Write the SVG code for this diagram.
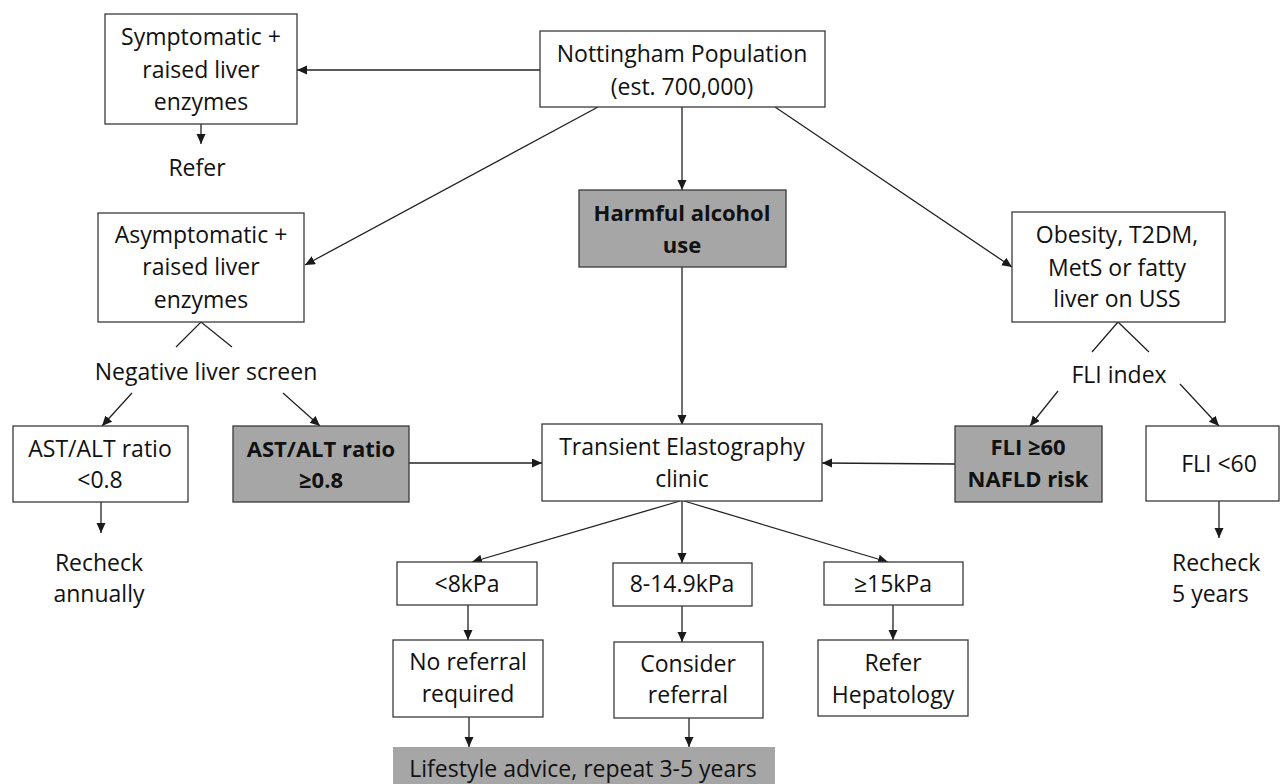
<svg xmlns="http://www.w3.org/2000/svg" width="1280" height="784" viewBox="0 0 1280 784">
<defs>
<marker id="ah" markerUnits="userSpaceOnUse" markerWidth="10" markerHeight="10" refX="10" refY="4.5" orient="auto">
<path d="M0,0 L10,4.5 L0,9 z" fill="#1a1a1a"/>
</marker>
<style>
.box{fill:#ffffff;stroke:#3a3a3a;stroke-width:1.3}
.gbox{fill:#a6a6a6;stroke:#3a3a3a;stroke-width:1.3}
.t{font-family:"Open Sans","Liberation Sans",sans-serif;font-size:23px;fill:#111;text-anchor:middle}
.b{font-weight:bold;font-size:22px}
.l{text-anchor:start}
.c line,.c polyline{stroke:#222;stroke-width:1.3;fill:none}
.c .a{marker-end:url(#ah)}
</style>
</defs>
<rect width="1280" height="784" fill="#ffffff"/>

<g class="c" id="connectors">
<line class="a" x1="540" y1="70" x2="297" y2="70"/>
<line class="a" x1="201" y1="124" x2="201" y2="144"/>
<line class="a" x1="682" y1="107" x2="682" y2="190"/>
<line class="a" x1="598" y1="107" x2="305" y2="265"/>
<line class="a" x1="775" y1="107" x2="1012" y2="267"/>
<line class="a" x1="682" y1="267" x2="682" y2="425"/>
<polyline points="176,347 201,322 232,347"/>
<polyline points="1092,352 1118,322 1149,352"/>
<line class="a" x1="132" y1="393" x2="102" y2="426"/>
<line class="a" x1="283" y1="393" x2="320" y2="426"/>
<line class="a" x1="1058" y1="391" x2="1030" y2="426"/>
<line class="a" x1="1180" y1="384" x2="1219" y2="426"/>
<line class="a" x1="101" y1="502" x2="101" y2="533"/>
<line class="a" x1="1219" y1="501" x2="1219" y2="538"/>
<line class="a" x1="409" y1="463" x2="542" y2="463"/>
<line class="a" x1="955" y1="464" x2="822" y2="463"/>
<line class="a" x1="680" y1="501" x2="472" y2="562"/>
<line class="a" x1="682" y1="501" x2="682" y2="563"/>
<line class="a" x1="684" y1="501" x2="888" y2="562"/>
<line class="a" x1="468" y1="605" x2="468" y2="640"/>
<line class="a" x1="682" y1="606" x2="682" y2="642"/>
<line class="a" x1="893" y1="605" x2="893" y2="640"/>
<line class="a" x1="469" y1="717" x2="469" y2="747"/>
<line class="a" x1="689" y1="718" x2="689" y2="747"/>
</g>

<g id="symptomatic">
<rect class="box" x="105" y="14" width="192" height="110"/>
<text class="t" x="201" y="45">Symptomatic +</text>
<text class="t" x="201" y="78">raised liver</text>
<text class="t" x="201" y="110">enzymes</text>
</g>
<g id="refer-top"><text class="t" x="197" y="176">Refer</text></g>

<g id="nottingham">
<rect class="box" x="540" y="31" width="285" height="76"/>
<text class="t" x="682" y="62">Nottingham Population</text>
<text class="t" x="682" y="95">(est. 700,000)</text>
</g>

<g id="harmful">
<rect class="gbox" x="579" y="190" width="207" height="77"/>
<text class="t b" x="682" y="221">Harmful alcohol</text>
<text class="t b" x="682" y="253">use</text>
</g>

<g id="asymptomatic">
<rect class="box" x="98" y="213" width="206" height="109"/>
<text class="t" x="201" y="243">Asymptomatic +</text>
<text class="t" x="201" y="275">raised liver</text>
<text class="t" x="201" y="308">enzymes</text>
</g>
<g id="negative"><text class="t" x="206" y="380">Negative liver screen</text></g>

<g id="obesity">
<rect class="box" x="1012" y="212" width="213" height="110"/>
<text class="t" x="1117" y="243">Obesity, T2DM,</text>
<text class="t" x="1117" y="276">MetS or fatty</text>
<text class="t" x="1117" y="307">liver on USS</text>
</g>
<g id="fli-index"><text class="t" x="1119" y="383">FLI index</text></g>

<g id="ast-low">
<rect class="box" x="13" y="426" width="175" height="76"/>
<text class="t" x="100" y="457">AST/ALT ratio</text>
<text class="t" x="100" y="488">&lt;0.8</text>
</g>
<g id="recheck-annual">
<text class="t" x="99" y="571">Recheck</text>
<text class="t" x="99" y="602">annually</text>
</g>

<g id="ast-high">
<rect class="gbox" x="233" y="426" width="176" height="76"/>
<text class="t b" x="321" y="457">AST/ALT ratio</text>
<text class="t b" x="321" y="488">≥0.8</text>
</g>

<g id="transient">
<rect class="box" x="542" y="424" width="280" height="77"/>
<text class="t" x="682" y="455">Transient Elastography</text>
<text class="t" x="682" y="487">clinic</text>
</g>

<g id="fli-high">
<rect class="gbox" x="955" y="426" width="147" height="76"/>
<text class="t b" x="1028" y="455">FLI ≥60</text>
<text class="t b" x="1028" y="487">NAFLD risk</text>
</g>

<g id="fli-low">
<rect class="box" x="1146" y="426" width="133" height="75"/>
<text class="t" x="1219" y="472">FLI &lt;60</text>
</g>
<g id="recheck-5">
<text class="t l" x="1172" y="571">Recheck</text>
<text class="t l" x="1172" y="602">5 years</text>
</g>

<g id="kpa-low">
<rect class="box" x="397" y="562" width="140" height="43"/>
<text class="t" x="467" y="592">&lt;8kPa</text>
</g>
<g id="kpa-mid">
<rect class="box" x="613" y="563" width="139" height="43"/>
<text class="t" x="682" y="592">8-14.9kPa</text>
</g>
<g id="kpa-high">
<rect class="box" x="824" y="562" width="139" height="43"/>
<text class="t" x="893" y="592">≥15kPa</text>
</g>

<g id="no-referral">
<rect class="box" x="393" y="640" width="150" height="77"/>
<text class="t" x="468" y="670">No referral</text>
<text class="t" x="468" y="702">required</text>
</g>
<g id="consider">
<rect class="box" x="614" y="642" width="149" height="76"/>
<text class="t" x="688" y="672">Consider</text>
<text class="t" x="688" y="703">referral</text>
</g>
<g id="refer-hep">
<rect class="box" x="818" y="640" width="150" height="76"/>
<text class="t" x="893" y="671">Refer</text>
<text class="t" x="893" y="703">Hepatology</text>
</g>

<g id="lifestyle">
<rect x="393" y="747" width="382" height="40" fill="#a6a6a6"/>
<text class="t" x="583" y="777">Lifestyle advice, repeat 3-5 years</text>
</g>
</svg>
